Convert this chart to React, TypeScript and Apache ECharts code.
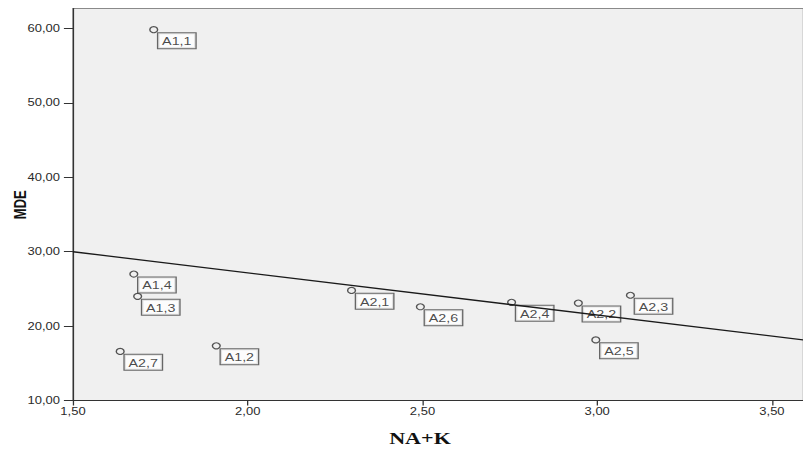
import React, { useEffect, useRef } from "react";
import * as echarts from "echarts";

// Data
const pointLabels = ["A1,1", "A1,2", "A1,3", "A1,4", "A2,1", "A2,2", "A2,3", "A2,4", "A2,5", "A2,6", "A2,7"];
const naK = [1.731, 1.91, 1.685, 1.674, 2.297, 2.946, 3.095, 2.755, 2.996, 2.494, 1.635];
const mde = [59.85, 17.35, 24.0, 27.0, 24.8, 23.1, 24.15, 23.2, 18.15, 22.6, 16.6];
// Fit line end points
const fitX = [1.5, 3.59];
const fitY = [30.0, 18.15];
const xTicks = [1.5, 2.0, 2.5, 3.0, 3.5];
const yTicks = [10, 20, 30, 40, 50, 60];

const S = 1.3; // horizontal stretch of the reference
const W = 803 / S;
const H = 449;

const fmt = (v: number) => v.toFixed(2).replace(".", ",");
const SANS = "'Liberation Sans', Arial, sans-serif";

export default function App() {
  const ref = useRef<HTMLDivElement>(null);
  useEffect(() => {
    if (!ref.current) return;
    const chart = echarts.init(ref.current, undefined, { renderer: "svg" });
    const scatterData = naK.map((x, i) => ({ value: [x, mde[i]], name: pointLabels[i] }));
    chart.setOption({
      animation: false,
      backgroundColor: "#ffffff",
      grid: {
        left: 73 / S,
        right: -2,
        top: 8.5,
        bottom: 48.5,
        show: true,
        backgroundColor: "#f0f0f0",
        borderColor: "#8a8a8a",
        borderWidth: 1,
      },
      xAxis: {
        type: "value",
        min: 1.5,
        max: 3.59,
        splitLine: { show: false },
        axisLine: { lineStyle: { color: "#333", width: 1 } },
        axisTick: { length: 5, lineStyle: { color: "#333" }, customValues: xTicks },
        axisLabel: {
          customValues: xTicks,
          formatter: (v: number) => fmt(v),
          fontSize: 10,
          fontFamily: SANS,
          color: "#2a2a2a",
          margin: 6,
        },
      },
      yAxis: {
        type: "value",
        min: 10,
        max: 62.7,
        splitLine: { show: false },
        axisLine: { lineStyle: { color: "#333", width: 1 } },
        axisTick: { length: 7, lineStyle: { color: "#333" }, customValues: yTicks },
        axisLabel: {
          customValues: yTicks,
          formatter: (v: number) => (yTicks.includes(v) ? fmt(v) : ""),
          fontSize: 10,
          fontFamily: SANS,
          color: "#2a2a2a",
          margin: 10,
        },
      },
      graphic: [
        {
          type: "text",
          x: 20 / S,
          y: 204.7,
          rotation: Math.PI / 2,
          style: {
            text: "MDE",
            fontSize: 13,
            fontWeight: "bold",
            fontFamily: SANS,
            fill: "#111",
            align: "center",
            verticalAlign: "middle",
          },
        },
        {
          type: "text",
          x: 420 / S,
          y: 437.5,
          style: {
            text: "NA+K",
            fontSize: 17,
            fontWeight: "bold",
            fontFamily: "'Liberation Serif', 'Times New Roman', serif",
            fill: "#111",
            align: "center",
            verticalAlign: "middle",
          },
        },
      ],
      series: [
        {
          type: "scatter",
          z: 2,
          symbol: "circle",
          symbolSize: 6,
          data: scatterData,
          itemStyle: { color: "rgba(0,0,0,0)", borderColor: "#2a2a2a", borderWidth: 1.1 },
          label: {
            show: true,
            formatter: (p: any) => p.name,
            position: [7, 7],
            fontSize: 11,
            fontFamily: SANS,
            color: "#1a1a1a",
            lineHeight: 12,
            backgroundColor: "#ffffff",
            borderColor: "#444",
            borderWidth: 1,
            padding: [2, 3, 1, 3],
          },
          emphasis: { disabled: true },
        },
        {
          type: "line",
          z: 5,
          data: fitX.map((x, i) => [x, fitY[i]]),
          symbol: "none",
          lineStyle: { color: "#1a1a1a", width: 1.3 },
          emphasis: { disabled: true },
        },
      ],
    });
    return () => chart.dispose();
  }, []);
  return (
    <div style={{ position: "absolute", left: 0, top: 0, width: 803, height: 449, overflow: "hidden", background: "#fff" }}>
      <div
        ref={ref}
        style={{ width: W, height: H, transform: `scaleX(${S})`, transformOrigin: "0 0" }}
      />
    </div>
  );
}
